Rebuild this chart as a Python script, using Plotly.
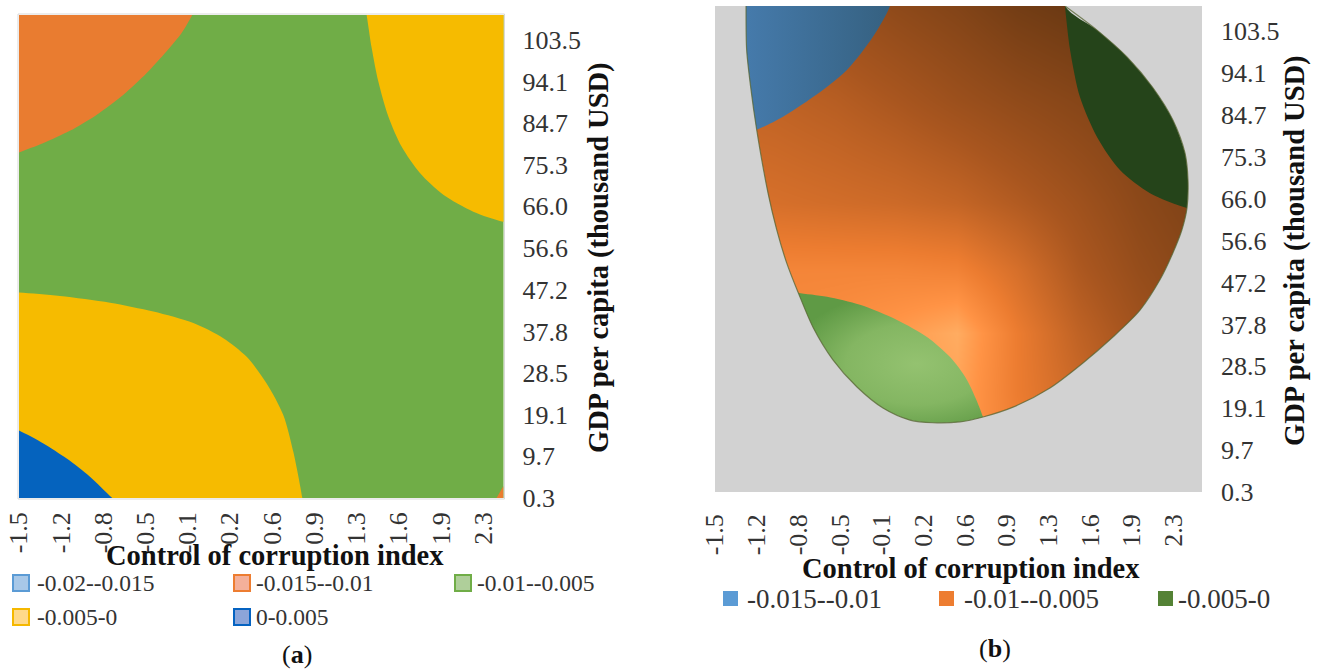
import plotly.graph_objects as go

W, H = 1324, 669

x_ticks = [-1.5, -1.155, -0.81, -0.465, -0.12, 0.225, 0.57, 0.915, 1.26, 1.605, 1.95, 2.295]
x_labels = ["-1.5", "-1.2", "-0.8", "-0.5", "-0.1", "0.2", "0.6", "0.9", "1.3", "1.6", "1.9", "2.3"]
y_ticks = [0.3, 9.7, 19.1, 28.5, 37.8, 47.2, 56.6, 66.0, 75.3, 84.7, 94.1, 103.5]
y_labels = ["0.3", "9.7", "19.1", "28.5", "37.8", "47.2", "56.6", "66.0", "75.3", "84.7", "94.1", "103.5"]

XA_MIN, XA_MAX = -1.5, 2.46
XB_MIN, XB_MAX = -1.5, 2.53
Y_MIN, Y_MAX = 0.3, 109.1

# Panel (a): band boundaries
a_orange_x = [-1.5, -1.304, -1.085, -0.867, -0.649, -0.458, -0.295, -0.172, -0.086]
a_orange_y = [78.1, 80.2, 83.0, 86.6, 91.1, 96.0, 100.9, 105.0, 109.0]
a_yellow_top_x = [1.342, 1.383, 1.437, 1.518, 1.628, 1.777, 1.968, 2.213, 2.458]
a_yellow_top_y = [109.0, 101.6, 94.1, 86.3, 79.4, 73.5, 68.6, 64.8, 62.5]
a_yellow_low_x = [-1.5, -1.165, -0.756, -0.402, -0.075, 0.170, 0.361, 0.524, 0.660, 0.742, 0.815]
a_yellow_low_y = [46.6, 45.8, 44.3, 42.3, 39.7, 36.3, 32.1, 26.1, 19.0, 10.7, 0.4]
a_blue_x = [-1.5, -1.301, -1.110, -0.920, -0.734]
a_blue_y = [15.5, 12.6, 9.2, 5.1, 0.2]
a_corner_x = [2.403, 2.46]
a_corner_y = [0.3, 3.0]

# Panel (b): outline of the surface, and its band boundaries
b_out_x = [-1.243, -1.238, -1.205, -1.155, -1.061, -0.989, -0.907, -0.811, -0.689, -0.524, -0.325, -0.110,
           0.114, 0.304, 0.527, 0.718, 0.966, 1.272, 1.545, 1.793, 2.017, 2.182, 2.289, 2.364, 2.406, 2.414,
           2.389, 2.289, 2.124, 1.909, 1.661, 1.396]
b_out_y = [109.1, 99.3, 91.0, 81.4, 67.2, 59.0, 51.6, 44.9, 37.2, 29.9, 23.8, 19.1,
           16.4, 15.8, 16.0, 17.1, 19.3, 23.6, 29.2, 35.0, 41.0, 47.8, 53.8, 59.0, 63.9, 70.2,
           76.2, 83.6, 90.8, 97.7, 103.7, 109.1]
b_blue_x = [-0.052, -0.193, -0.408, -0.689, -0.937, -1.155]
b_blue_y = [109.1, 102.2, 94.8, 88.7, 84.3, 81.4]
b_dark_x = [1.396, 1.438, 1.520, 1.661, 1.851, 2.100, 2.406]
b_dark_y = [109.1, 99.3, 88.7, 79.8, 72.4, 67.2, 63.9]
b_light_x = [-0.813, -0.573, -0.300, 0.006, 0.254, 0.445, 0.585, 0.718]
b_light_y = [44.9, 44.0, 42.2, 38.8, 35.0, 30.5, 25.4, 17.1]

# Panel (b): brightness of the shaded orange surface
shade_x = [-1.5, -1.0, -0.5, 0.0, 0.5, 1.0, 1.5, 2.0, 2.5]
shade_y = [15, 23, 36, 50, 65, 88, 109]
shade_z = [
    [.78, .80, .85, .90, .90, .72, .55, .40, .30],
    [.78, .80, .85, .92, .92, .70, .55, .40, .30],
    [.75, .78, .82, .88, .96, .70, .50, .36, .25],
    [.74, .76, .76, .76, .74, .60, .42, .30, .22],
    [.62, .60, .58, .56, .52, .44, .35, .25, .18],
    [.52, .50, .46, .40, .33, .27, .22, .18, .15],
    [.40, .36, .33, .26, .20, .12, .07, .07, .07],
]

legend_a = ["-0.02--0.015", "-0.015--0.01", "-0.01--0.005", "-0.005-0", "0-0.005"]
legend_b = ["-0.015--0.01", "-0.01--0.005", "-0.005-0"]

SERIF = "Liberation Serif"
TICK = dict(family=SERIF, size=26, color="#333333")
LINE = dict(width=0, shape="spline", smoothing=0.8)


def px(v):
    return v / W


def py(v):
    return 1 - v / H


def poly(xs, ys, xa, ya, **kw):
    return go.Scatter(x=xs, y=ys, mode="lines", fill="toself", line=LINE, xaxis=xa, yaxis=ya,
                      hoverinfo="skip", showlegend=False, **kw)


fig = go.Figure()

# ---- panel (a); each region runs past the plot edge and is clipped there
fig.add_trace(poly([-1.8] + a_orange_x + [0.0, -3.0], [74.5] + a_orange_y + [113.5, 125.0], "x", "y", fillcolor="#E97C30"))
fig.add_trace(poly([1.31] + a_yellow_top_x + [2.8, 4.0], [114.0] + a_yellow_top_y + [60.5, 125.0], "x", "y", fillcolor="#F6BB00"))
fig.add_trace(poly([-1.8] + a_yellow_low_x + [0.84, -3.0], [47.0] + a_yellow_low_y + [-5.0, -20.0], "x", "y", fillcolor="#F6BB00"))
fig.add_trace(poly([-1.8] + a_blue_x + [-0.55, -3.0], [19.0] + a_blue_y + [-4.0, -20.0], "x", "y", fillcolor="#0563BE"))
fig.add_trace(go.Scatter(x=a_corner_x + [XA_MAX], y=a_corner_y + [Y_MIN], mode="lines", fill="toself", fillcolor="#E97C30",
                         line=dict(width=0), xaxis="x", yaxis="y", hoverinfo="skip", showlegend=False))

# ---- panel (b)
fig.add_trace(go.Heatmap(
    x=shade_x, y=shade_y, z=shade_z, zmin=0, zmax=1, zsmooth="best", showscale=False,
    colorscale=[[0, "#5C3210"], [0.4, "#A9561F"], [0.7, "#EC7C30"], [0.85, "#FF9345"], [1, "#FFB56B"]],
    xaxis="x2", yaxis="y2", hoverinfo="skip"))

fig.add_trace(poly([-0.02] + b_blue_x + [-1.4, -1.6, -1.2], [114.0] + b_blue_y + [79.5, 100.0, 125.0], "x2", "y2",
                   fillgradient=dict(type="horizontal", colorscale=[[0, "#4A82B8"], [1, "#35607F"]])))
fig.add_trace(poly([1.38] + b_dark_x + [2.7, 3.0, 2.2], [114.0] + b_dark_y + [62.5, 85.0, 125.0], "x2", "y2",
                   fillcolor="#25441A"))
fig.add_trace(poly([-0.9] + b_light_x + [0.74, 1.24, 0.1, -0.9], [45.5] + b_light_y + [14.0, 13.0, 13.0, 20.0], "x2", "y2",
                   fillgradient=dict(type="radial", colorscale=[[0, "#94C270"], [0.55, "#84B662"], [1, "#5F9A45"]])))

# grey floor outside the surface (its far corners lie past the plot edge)
fig.add_trace(poly(b_out_x + [1.3, 4.0, 4.0, -3.5, -3.5, -1.2], b_out_y + [125.0, 125.0, -30.0, -30.0, 125.0, 125.0], "x2", "y2",
                   fillcolor="#D2D2D2"))
fig.add_trace(go.Scatter(
    x=b_out_x, y=b_out_y, mode="lines", line=dict(width=1.2, color="rgba(85,100,50,0.75)", shape="spline", smoothing=0.8),
    xaxis="x2", yaxis="y2", hoverinfo="skip", showlegend=False))


def xaxis_cfg(l, r, lo, hi, anchor, standoff):
    return dict(domain=[px(l), px(r)], range=[lo, hi], tickmode="array", tickvals=x_ticks, ticktext=x_labels,
                tickangle=-90, tickfont=TICK, showgrid=False, zeroline=False, anchor=anchor,
                showline=False, ticks="", ticklabelstandoff=standoff, automargin=False)


def yaxis_cfg(t, b, anchor):
    return dict(domain=[py(b), py(t)], range=[Y_MIN, Y_MAX], tickmode="array", tickvals=y_ticks, ticktext=y_labels,
                side="right", tickfont=TICK, showgrid=False, zeroline=False, anchor=anchor,
                showline=False, ticks="", ticklabelstandoff=18, automargin=False)


shapes = []
annotations = []


def label(x, y, text, size=24, bold=False, anchor="left", angle=0, color="#333333"):
    annotations.append(dict(x=px(x), y=py(y), xref="paper", yref="paper", text=f"<b>{text}</b>" if bold else text,
                            showarrow=False, xanchor=anchor, yanchor="middle", textangle=angle,
                            font=dict(family=SERIF, size=size, color=color)))


def swatch(x0, y0, x1, y1, fill, line=None):
    shapes.append(dict(type="rect", xref="paper", yref="paper", x0=px(x0), x1=px(x1), y0=py(y0), y1=py(y1),
                       fillcolor=fill, line=dict(color=line or fill, width=2 if line else 0), layer="above"))


shapes.append(dict(type="rect", xref="paper", yref="paper", x0=px(18), x1=px(504.5), y0=py(14), y1=py(499),
                   line=dict(color="#D9D9D9", width=1), layer="above"))

# legend (a)
a_cols = [(12, 35), (233, 254), (454, 475)]
a_style = [("#A8C8E8", "#5B9BD5"), ("#F4B09A", "#ED7D31"), ("#AFCF9A", "#70AD47"),
           ("#FFD98A", "#F5B800"), ("#8CA5D9", "#0563C1")]
for i, name in enumerate(legend_a):
    cx, tx = a_cols[i % 3]
    cy = 583 if i < 3 else 617
    swatch(cx + 1, cy - 8, cx + 17, cy + 8, a_style[i][0], a_style[i][1])
    label(tx, cy, name, size=23.5)

# legend (b)
b_cols = [(723, 745), (939, 962), (1158, 1176)]
b_style = ["#5B9BD5", "#ED7D31", "#548235"]
for (cx, tx), name, c in zip(b_cols, legend_b, b_style):
    swatch(cx, 591, cx + 15, 606, c)
    label(tx, 599, name, size=27)

# titles
BIG = 28.5
label(275, 555, "Control of corruption index", size=BIG, bold=True, anchor="center", color="#111111")
label(971, 568, "Control of corruption index", size=BIG, bold=True, anchor="center", color="#111111")
label(599, 258, "GDP per capita (thousand USD)", size=BIG, bold=True, anchor="center", angle=-90, color="#111111")
label(1295, 251, "GDP per capita (thousand USD)", size=BIG, bold=True, anchor="center", angle=-90, color="#111111")
label(297, 654, "(<b>a</b>)", size=26, anchor="center", color="#111111")
label(995, 648, "(<b>b</b>)", size=26, anchor="center", color="#111111")

fig.update_layout(
    width=W, height=H, autosize=False, margin=dict(l=0, r=0, t=0, b=0, pad=0),
    paper_bgcolor="white", plot_bgcolor="#70AD47", showlegend=False,
    xaxis=xaxis_cfg(19, 503.5, XA_MIN, XA_MAX, "y", 8),
    yaxis=yaxis_cfg(15, 498, "x"),
    xaxis2=xaxis_cfg(715, 1202, XB_MIN, XB_MAX, "y2", 16),
    yaxis2=yaxis_cfg(6, 492, "x2"),
    shapes=shapes, annotations=annotations,
)

fig.write_html("out.html", post_script="document.body.style.margin='0';document.body.style.overflow='hidden';",
               config={"displayModeBar": False})
